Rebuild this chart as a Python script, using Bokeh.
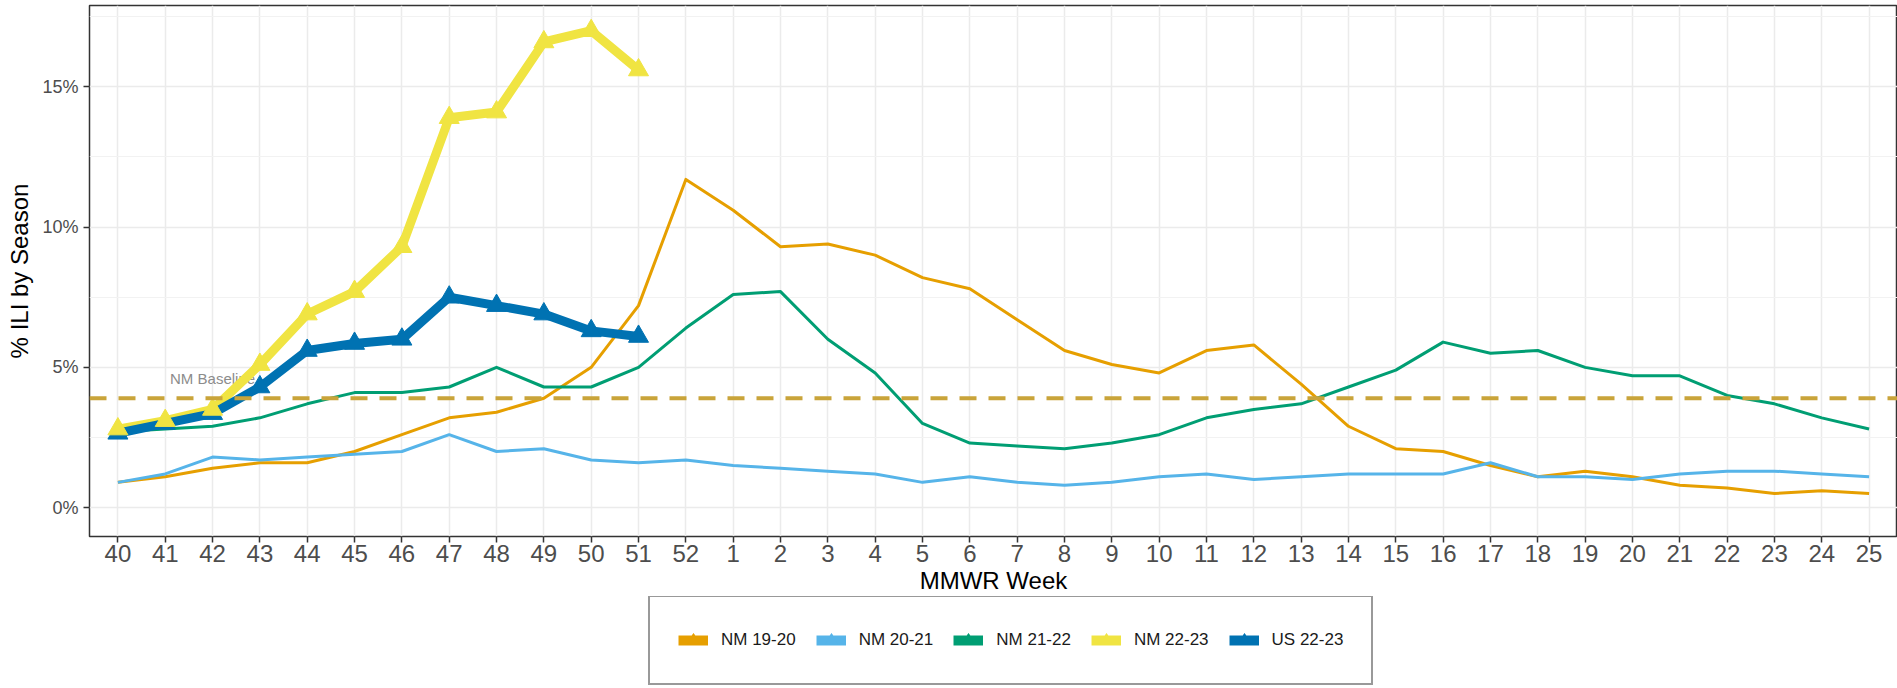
from bokeh.plotting import figure
from bokeh.layouts import column
from bokeh.models import (FactorRange, Range1d, FixedTicker, PrintfTickFormatter,
                          Span, Legend, LegendItem, ColumnDataSource)
from bokeh.core.properties import value
from bokeh.embed import file_html
from bokeh.resources import INLINE

# ---------------- data ----------------
weeks = ["40", "41", "42", "43", "44", "45", "46", "47", "48", "49", "50", "51", "52",
         "1", "2", "3", "4", "5", "6", "7", "8", "9", "10", "11", "12", "13", "14",
         "15", "16", "17", "18", "19", "20", "21", "22", "23", "24", "25"]
weeks_current = ["40", "41", "42", "43", "44", "45", "46", "47", "48", "49", "50", "51"]

nm_1920 = [0.9, 1.1, 1.4, 1.6, 1.6, 2.0, 2.6, 3.2, 3.4, 3.9, 5.0, 7.2, 11.7,
           10.6, 9.3, 9.4, 9.0, 8.2, 7.8, 6.7, 5.6, 5.1, 4.8, 5.6, 5.8, 4.4, 2.9,
           2.1, 2.0, 1.5, 1.1, 1.3, 1.1, 0.8, 0.7, 0.5, 0.6, 0.5]
nm_2021 = [0.9, 1.2, 1.8, 1.7, 1.8, 1.9, 2.0, 2.6, 2.0, 2.1, 1.7, 1.6, 1.7,
           1.5, 1.4, 1.3, 1.2, 0.9, 1.1, 0.9, 0.8, 0.9, 1.1, 1.2, 1.0, 1.1, 1.2,
           1.2, 1.2, 1.6, 1.1, 1.1, 1.0, 1.2, 1.3, 1.3, 1.2, 1.1]
nm_2122 = [2.7, 2.8, 2.9, 3.2, 3.7, 4.1, 4.1, 4.3, 5.0, 4.3, 4.3, 5.0, 6.4,
           7.6, 7.7, 6.0, 4.8, 3.0, 2.3, 2.2, 2.1, 2.3, 2.6, 3.2, 3.5, 3.7, 4.3,
           4.9, 5.9, 5.5, 5.6, 5.0, 4.7, 4.7, 4.0, 3.7, 3.2, 2.8]
nm_2223 = [2.8, 3.1, 3.5, 5.1, 6.9, 7.7, 9.3, 13.9, 14.1, 16.6, 17.0, 15.6]
us_2223 = [2.65, 3.0, 3.35, 4.3, 5.6, 5.85, 6.0, 7.5, 7.2, 6.9, 6.3, 6.1]

series_names = ["NM 19-20", "NM 20-21", "NM 21-22", "NM 22-23", "US 22-23"]
series_colors = ["#E69F00", "#56B4E9", "#009E73", "#F0E442", "#0072B2"]

nm_baseline = 3.9
baseline_label = "NM Baseline"
baseline_label_week = "42"
baseline_label_y = 4.6

y_ticks = [0, 5, 10, 15]
y_minor = [2.5, 7.5, 12.5, 17.5]

FONT = "Liberation Sans"

# ---------------- main figure ----------------
p = figure(frame_width=1808, frame_height=531,
           x_range=FactorRange(factors=weeks, range_padding=0.1,
                               range_padding_units="absolute"),
           y_range=Range1d(-1.03, 17.9),
           output_backend="svg", toolbar_location=None,
           min_border_left=89, min_border_right=0, min_border_top=5,
           min_border_bottom=30, background_fill_color="white",
           border_fill_color="white")

p.outline_line_color = "#333333"
p.outline_line_width = 1.5

# grids
p.xgrid.grid_line_color = "#EBEBEB"
p.xgrid.grid_line_width = 1.5
p.ygrid.grid_line_color = "#EBEBEB"
p.ygrid.grid_line_width = 1.5
p.ygrid.minor_grid_line_color = "#F2F2F2"
p.ygrid.minor_grid_line_width = 1

# axes
p.yaxis.ticker = FixedTicker(ticks=y_ticks, minor_ticks=y_minor)
p.yaxis.formatter = PrintfTickFormatter(format="%d%%")
for ax in (p.xaxis[0], p.yaxis[0]):
    ax.axis_line_color = None
    ax.major_tick_line_color = "#333333"
    ax.major_tick_line_width = 1.5
    ax.major_tick_in = 0
    ax.major_tick_out = 6
    ax.minor_tick_line_color = None
    ax.major_label_text_font = FONT
    ax.major_label_text_color = "#4D4D4D"
    ax.axis_label_text_font = FONT
    ax.axis_label_text_font_style = "normal"
    ax.axis_label_text_color = "#000000"
    ax.axis_label_text_font_size = "24px"

p.xaxis.major_label_text_font_size = "24px"
p.yaxis.major_label_text_font_size = "18px"
p.xaxis.major_label_standoff = 2
p.xaxis.axis_label = "MMWR Week"
p.yaxis.axis_label = "% ILI by Season"
p.xaxis.axis_label_standoff = 2
p.yaxis.axis_label_standoff = 6

# baseline label (behind lines)
p.text(x=[baseline_label_week], y=[baseline_label_y], text=[baseline_label],
       text_font=value(FONT), text_font_size="15px", text_color="#8C8C8C",
       text_align="center", text_baseline="middle")

# thin historical lines
for vals, col in zip([nm_1920, nm_2021, nm_2122], series_colors[:3]):
    p.line(x=weeks, y=vals, line_color=col, line_width=3, line_join="round")

# current season lines
p.line(x=weeks_current, y=nm_2223, line_color=series_colors[3], line_width=9,
       line_join="round")
p.line(x=weeks_current, y=us_2223, line_color=series_colors[4], line_width=9,
       line_join="round")
p.scatter(x=weeks_current, y=us_2223, marker="triangle", size=20,
          color=series_colors[4])
p.scatter(x=weeks_current, y=nm_2223, marker="triangle", size=20,
          color=series_colors[3])

# baseline dashed line
p.add_layout(Span(location=nm_baseline, dimension="width", line_color="#C9A43A",
                  line_width=4, line_dash="17 12"))

# ---------------- legend strip ----------------
lg = figure(width=1897, height=92, x_range=Range1d(0, 1), y_range=Range1d(0, 1),
            x_axis_type=None, y_axis_type=None, output_backend="svg",
            toolbar_location=None, min_border=0, outline_line_color=None,
            background_fill_color="white", border_fill_color="white")
lg.grid.visible = False

items = []
for name, col in zip(series_names, series_colors):
    src = ColumnDataSource(dict(x=[0.5], y=[float("nan")]))
    lr = lg.line("x", "y", source=src, line_color=col, line_width=10)
    sr = lg.scatter("x", "y", source=src, marker="triangle", size=14, color=col)
    items.append(LegendItem(label=name, renderers=[lr, sr]))

legend = Legend(items=items, orientation="horizontal", location=(559, 3),
                glyph_width=30, glyph_height=30, label_height=30,
                label_standoff=13, spacing=20, padding=28, margin=0,
                border_line_color="#333333", border_line_width=2,
                label_text_font=FONT, label_text_font_size="17px",
                label_text_color="#1A1A1A", background_fill_color="white")
lg.add_layout(legend, "center")

layout = column(p, lg, spacing=0)
open("out.html", "w").write(file_html(layout, INLINE))
